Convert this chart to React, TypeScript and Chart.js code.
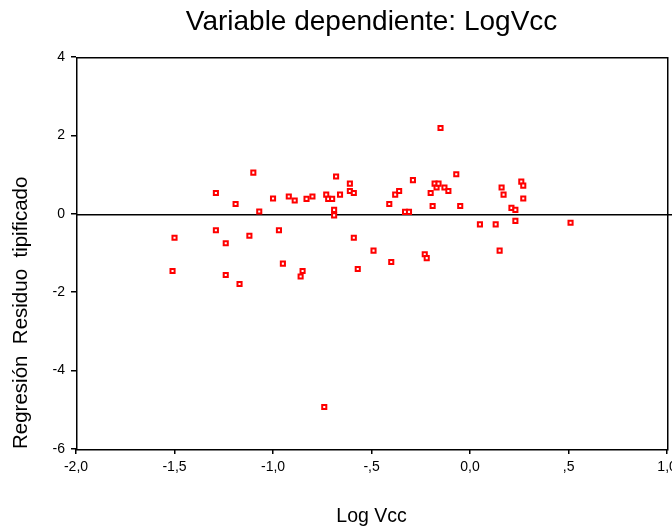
import React, { useEffect, useRef } from 'react';
import { Chart, registerables } from 'chart.js';

Chart.register(...registerables);

// ---- Data ----
const logVcc = [
  -1.51, -1.50, -1.29, -1.29, -1.24, -1.24, -1.19, -1.17, -1.12, -1.10,
  -1.07, -1.00, -0.97, -0.95, -0.92, -0.89, -0.86, -0.85, -0.83, -0.80,
  -0.73, -0.72, -0.70, -0.69, -0.69, -0.68, -0.66, -0.61, -0.61, -0.59,
  -0.59, -0.57, -0.49, -0.41, -0.40, -0.38, -0.36, -0.33, -0.31, -0.29,
  -0.23, -0.22, -0.20, -0.19, -0.18, -0.17, -0.16, -0.15, -0.13, -0.11,
  -0.07, -0.05, 0.05, 0.13, 0.15, 0.16, 0.17, 0.21, 0.23, 0.23,
  0.26, 0.27, 0.27, 0.51, -0.74,
];
const residuals = [
  -1.46, -0.61, 0.53, -0.42, -0.75, -1.56, 0.25, -1.79, -0.56, 1.05,
  0.06, 0.39, -0.42, -1.27, 0.44, 0.34, -1.60, -1.46, 0.38, 0.44,
  0.49, 0.38, 0.38, 0.10, -0.04, 0.95, 0.49, 0.77, 0.58, 0.53,
  -0.61, -1.41, -0.94, 0.25, -1.23, 0.49, 0.58, 0.05, 0.05, 0.86,
  -1.03, -1.13, 0.53, 0.20, 0.77, 0.67, 0.77, 2.19, 0.67, 0.58,
  1.01, 0.20, -0.27, -0.27, -0.94, 0.67, 0.49, 0.15, 0.10, -0.18,
  0.82, 0.72, 0.39, -0.23, -4.93,
];
const xTickValues = [-2, -1.5, -1, -0.5, 0, 0.5, 1];
const xTickLabels = ['-2,0', '-1,5', '-1,0', '-,5', '0,0', ',5', '1,0'];
const yTickValues = [-6, -4, -2, 0, 2, 4];
const yTickLabels = ['-6', '-4', '-2', '0', '2', '4'];
const chartTitle = 'Variable dependiente: LogVcc';
const xAxisTitle = 'Log Vcc';
const yAxisTitle = 'Regresión  Residuo  tipificado';

const FONT = 'Arial, "Liberation Sans", sans-serif';

const framePlugin = {
  id: 'frameAndZero',
  beforeDatasetsDraw(chart: any) {
    const { ctx, chartArea, scales } = chart;
    const l = Math.round(chartArea.left) + 0.75;
    const t = Math.round(chartArea.top) + 0.75;
    const r = Math.round(chartArea.right) + 0.75;
    const b = Math.round(chartArea.bottom) + 0.75;
    ctx.save();
    ctx.strokeStyle = '#000';
    ctx.lineWidth = 1.5;
    ctx.strokeRect(l, t, r - l, b - t);
    const py = Math.round(scales.y.getPixelForValue(0)) + 0.75;
    ctx.beginPath();
    ctx.moveTo(l, py);
    ctx.lineTo(chart.width, py);
    ctx.stroke();
    ctx.restore();
  },
};

export default function App() {
  const ref = useRef<HTMLCanvasElement | null>(null);

  useEffect(() => {
    if (!ref.current) return;
    const points = logVcc.map((x, i) => ({ x, y: residuals[i] }));
    const chart = new Chart(ref.current, {
      type: 'scatter',
      data: {
        datasets: [
          {
            data: points,
            pointStyle: 'rect',
            pointRadius: 2.9,
            pointHoverRadius: 2.9,
            borderWidth: 2,
            borderColor: '#ff0000',
            backgroundColor: '#ffffff',
          },
        ],
      },
      plugins: [framePlugin],
      options: {
        animation: false,
        responsive: false,
        devicePixelRatio: 1,
        events: [],
        layout: { padding: 0 },
        plugins: {
          legend: { display: false },
          tooltip: { enabled: false },
          title: {
            display: true,
            text: chartTitle,
            fullSize: false,
            color: '#000',
            font: { family: FONT, size: 28, weight: 'normal' },
            padding: { top: 5.8, bottom: 17.6 },
          },
        },
        scales: {
          x: {
            type: 'linear',
            min: -2,
            max: 1,
            afterBuildTicks: (s: any) => {
              s.ticks = xTickValues.map((v) => ({ value: v }));
            },
            afterFit: (s: any) => {
              s.height = 79;
              s.paddingLeft = 0;
              s.paddingRight = 0;
            },
            ticks: {
              color: '#000',
              font: { family: FONT, size: 14 },
              padding: 4.6,
              maxRotation: 0,
              autoSkip: false,
              callback: (v: any) => {
                const i = xTickValues.findIndex((t) => Math.abs(t - v) < 1e-9);
                return i >= 0 ? xTickLabels[i] : '';
              },
            },
            grid: {
              drawOnChartArea: false,
              drawTicks: true,
              tickLength: 5,
              color: '#000',
              lineWidth: 1.5,
            },
            border: { display: false },
            title: {
              display: true,
              text: xAxisTitle,
              color: '#000',
              font: { family: FONT, size: 19.5 },
              padding: { top: 0, bottom: 0 },
            },
          },
          y: {
            type: 'linear',
            min: -6,
            max: 4,
            afterBuildTicks: (s: any) => {
              s.ticks = yTickValues.map((v) => ({ value: v }));
            },
            afterFit: (s: any) => {
              s.width = 76;
              s.paddingTop = 0;
              s.paddingBottom = 0;
            },
            ticks: {
              color: '#000',
              font: { family: FONT, size: 14 },
              padding: 6,
              autoSkip: false,
              callback: (v: any) => {
                const i = yTickValues.findIndex((t) => Math.abs(t - v) < 1e-9);
                return i >= 0 ? yTickLabels[i] : '';
              },
            },
            grid: {
              drawOnChartArea: false,
              drawTicks: true,
              tickLength: 5,
              color: '#000',
              lineWidth: 1.5,
            },
            border: { display: false },
            title: {
              display: true,
              text: yAxisTitle,
              align: 'start',
              color: '#000',
              font: { family: FONT, size: 20.5 },
              padding: { top: 8.7, bottom: 0 },
            },
          },
        },
      },
    } as any);
    return () => chart.destroy();
  }, []);

  return (
    <div style={{ position: 'absolute', left: 0, top: 0, width: 672, height: 528, background: '#fff' }}>
      <canvas ref={ref} width={672} height={528} style={{ width: 672, height: 528, display: 'block' }} />
    </div>
  );
}
